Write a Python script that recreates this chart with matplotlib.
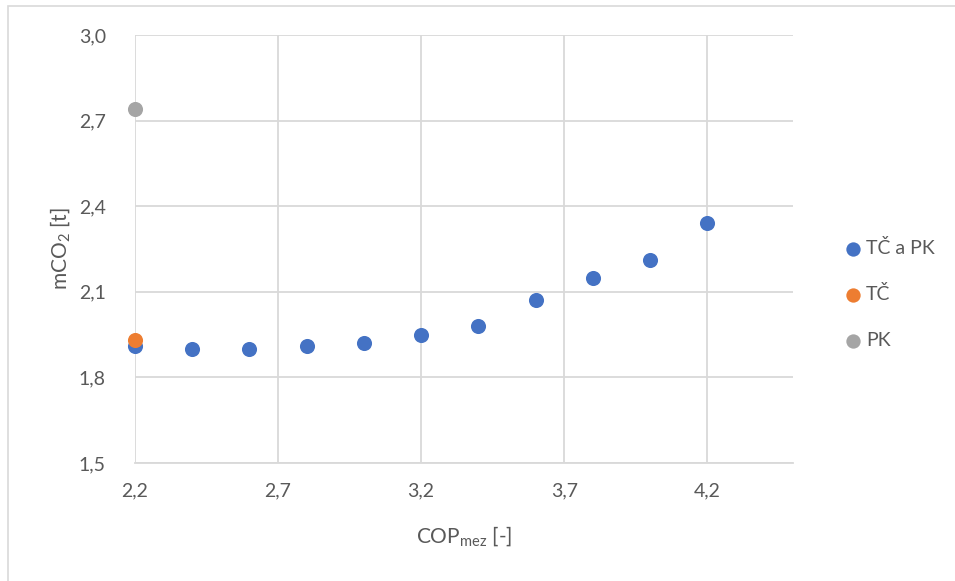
import matplotlib.pyplot as plt
from matplotlib.ticker import FuncFormatter, FixedLocator
from matplotlib.patches import Rectangle

plt.rcParams['font.family'] = ['Lato', 'DejaVu Sans']

# data
cop_tc_pk = [2.2, 2.4, 2.6, 2.8, 3.0, 3.2, 3.4, 3.6, 3.8, 4.0, 4.2]
mco2_tc_pk = [1.91, 1.90, 1.90, 1.91, 1.92, 1.95, 1.98, 2.07, 2.15, 2.21, 2.34]
cop_tc = [2.2]
mco2_tc = [1.93]
cop_pk = [2.2]
mco2_pk = [2.74]

x_ticks = [2.2, 2.7, 3.2, 3.7, 4.2]
y_ticks = [1.5, 1.8, 2.1, 2.4, 2.7, 3.0]

txt = '#595959'
grid_c = '#d9d9d9'

fig = plt.figure(figsize=(9.55, 5.81), dpi=100)
# outer chart border (left and top visible)
fig.patches.append(Rectangle((7.5 / 955, -0.1), 1.2, 1.1 - 5.5 / 581, transform=fig.transFigure,
                             fill=False, edgecolor='#d9d9d9', linewidth=1.2))

ax = fig.add_axes([135 / 955, (581 - 463) / 581, 658 / 955, 428 / 581])

ax.scatter(cop_tc_pk, mco2_tc_pk, s=118, color='#4472C4', label='TČ a PK', zorder=3, clip_on=False, linewidths=0)
ax.scatter(cop_tc, mco2_tc, s=118, color='#ED7D31', label='TČ', zorder=4, clip_on=False, linewidths=0)
ax.scatter(cop_pk, mco2_pk, s=118, color='#A5A5A5', label='PK', zorder=4, clip_on=False, linewidths=0)

ax.set_xlim(2.2, 4.5)
ax.set_ylim(1.5, 3.0)
ax.xaxis.set_major_locator(FixedLocator(x_ticks))
ax.yaxis.set_major_locator(FixedLocator(y_ticks))
fmt = FuncFormatter(lambda v, p: f'{v:.1f}'.replace('.', ','))
ax.xaxis.set_major_formatter(fmt)
ax.yaxis.set_major_formatter(fmt)

ax.grid(True, color=grid_c, linewidth=1.3, zorder=0)
ax.set_axisbelow(True)
for s in ['top', 'right', 'left']:
    ax.spines[s].set_visible(False)
ax.spines['bottom'].set_color(grid_c)
ax.spines['bottom'].set_linewidth(1.3)
ax.tick_params(length=0, labelsize=14, labelcolor=txt)
ax.tick_params(axis='x', pad=14)
ax.tick_params(axis='y', pad=21)

ax.set_xlabel('COP$_{\\mathregular{mez}}$ [-]', fontsize=15, color=txt, labelpad=18)
ax.set_ylabel('mCO$_{\\mathregular{2}}$ [t]', fontsize=15, color=txt, labelpad=4)

ax.legend(loc='center left', bbox_to_anchor=(1.05, 0.395), frameon=False, fontsize=14,
          labelcolor=txt, handletextpad=-0.35, labelspacing=1.45, markerscale=0.95,
          borderaxespad=0)

fig.savefig('out.png', dpi=100)
